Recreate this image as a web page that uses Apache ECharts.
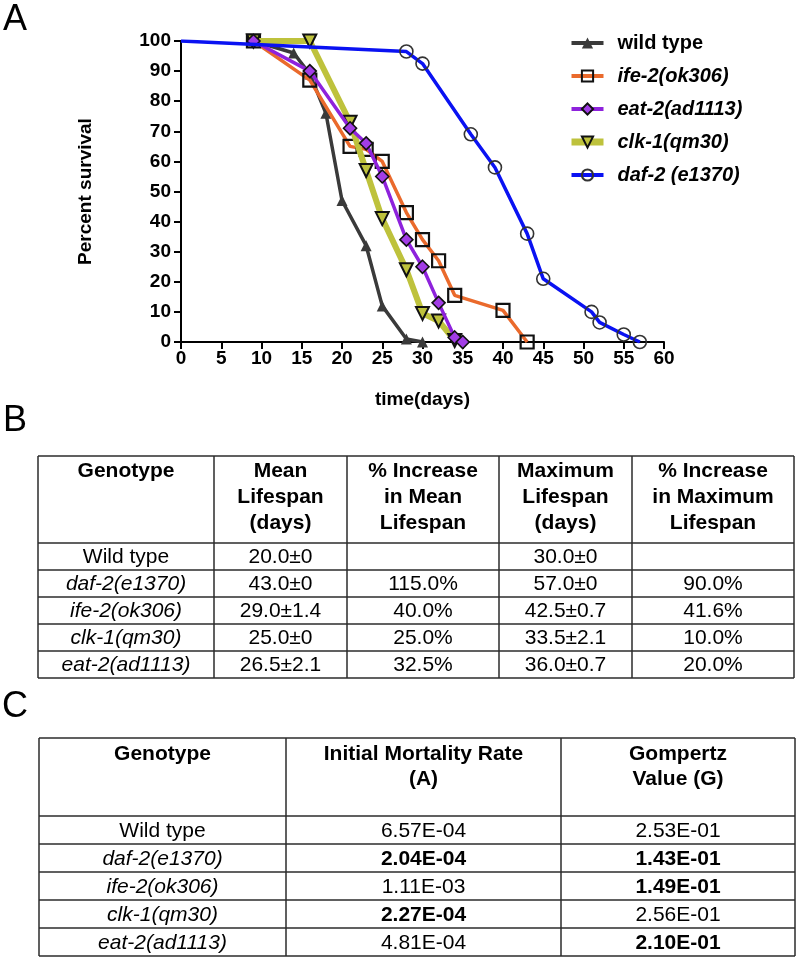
<!DOCTYPE html>
<html><head><meta charset="utf-8">
<script src="https://cdn.jsdelivr.net/npm/echarts@6/dist/echarts.min.js"></script>
<style>html,body{margin:0;padding:0;background:#fff}#c{width:796px;height:958px}</style>
</head><body><div id="c"></div>
<script>
// ---------- Panel A data ----------
const seriesNames = ['wild type','ife-2(ok306)','eat-2(ad1113)','clk-1(qm30)','daf-2 (e1370)'];
const wtDays  = [9,14,16,18,20,23,25,28,30];
const wtSurv  = [100,96,89,76,47,32,12,1,0];
const ifeDays = [9,16,21,23,25,28,30,32,34,40,43];
const ifeSurv = [100,87,65,64,60,43,34,27,15.5,10.5,0];
const eatDays = [9,16,21,23,25,28,30,32,34,35];
const eatSurv = [100,90,71,66,55,34,25,13,1.5,0];
const clkDays = [9,16,21,23,25,28,30,32,34];
const clkSurv = [100,100,73,57,41,24,9.5,7,0.5];
const dafDays = [0,28,30,36,39,43,45,51,52,55,57];
const dafSurv = [100,96.5,92.5,69,58,36,21,10,6.5,2.5,0];
const xMin = 0, xMax = 60, xStep = 5;
const yMin = 0, yMax = 100, yStep = 10;
const xTitle = 'time(days)';
const yTitle = 'Percent survival';

// ---------- Panel B data ----------
const tblBHeaders = ['Genotype','Mean\nLifespan\n(days)','% Increase\nin Mean\nLifespan','Maximum\nLifespan\n(days)','% Increase\nin Maximum\nLifespan'];
const genotypes = ['Wild type','daf-2(e1370)','ife-2(ok306)','clk-1(qm30)','eat-2(ad1113)'];
const meanLifespan = ['20.0±0','43.0±0','29.0±1.4','25.0±0','26.5±2.1'];
const pctMean = ['','115.0%','40.0%','25.0%','32.5%'];
const maxLifespan = ['30.0±0','57.0±0','42.5±0.7','33.5±2.1','36.0±0.7'];
const pctMax = ['','90.0%','41.6%','10.0%','20.0%'];

// ---------- Panel C data ----------
const tblCHeaders = ['Genotype','Initial Mortality Rate\n(A)','Gompertz\nValue (G)'];
const initMort = ['6.57E-04','2.04E-04','1.11E-03','2.27E-04','4.81E-04'];
const initMortBold = [false,true,false,true,false];
const gompertz = ['2.53E-01','1.43E-01','1.49E-01','2.56E-01','2.10E-01'];
const gompertzBold = [false,true,true,false,true];

const FF = '"Liberation Sans", Arial, Helvetica, sans-serif';
const pairs = (xs, ys) => xs.map((x, i) => [x, ys[i]]);

const chart = echarts.init(document.getElementById('c'), null, {renderer: 'canvas'});

// ---------- table graphics ----------
const graphics = [];
function txt(x, y, text, font, opts) {
  graphics.push(Object.assign({
    type: 'text', x: x, y: y, silent: true,
    style: Object.assign({text: text, font: font, fill: '#000', align: 'center', verticalAlign: 'middle'}, opts || {})
  }));
}
function grid(xs, ys) {
  const st = {stroke: '#2b2b2b', lineWidth: 1.5};
  xs.forEach(x => graphics.push({type: 'line', silent: true, shape: {x1: x, y1: ys[0], x2: x, y2: ys[ys.length-1]}, style: st}));
  ys.forEach(y => graphics.push({type: 'line', silent: true, shape: {x1: xs[0], y1: y, x2: xs[xs.length-1], y2: y}, style: st}));
}
// panel letters
txt(15, 20, 'A', '36px ' + FF);
txt(15, 421, 'B', '36px ' + FF);
txt(15, 707, 'C', '36px ' + FF);

// Table B
const bXs = [38,214,347,499,632,794];
const bYs = [456,543,570,597,624,651,678];
grid(bXs, bYs);
tblBHeaders.forEach((h, j) => {
  txt((bXs[j]+bXs[j+1])/2, 458, h, 'bold 21px ' + FF, {verticalAlign: 'top', lineHeight: 26});
});
const bCols = [genotypes, meanLifespan, pctMean, maxLifespan, pctMax];
bCols.forEach((col, j) => {
  col.forEach((v, i) => {
    const ital = (j === 0 && i > 0) ? 'italic ' : '';
    txt((bXs[j]+bXs[j+1])/2, (bYs[i+1]+bYs[i+2])/2 + 1, v, ital + '21px ' + FF);
  });
});

// Table C
const cXs = [39,286,561,795];
const cYs = [738,816,844,872,900,928,956];
grid(cXs, cYs);
tblCHeaders.forEach((h, j) => {
  txt((cXs[j]+cXs[j+1])/2, 742, h, 'bold 21px ' + FF, {verticalAlign: 'top', lineHeight: 25});
});
genotypes.forEach((g, i) => {
  const cy = (cYs[i+1]+cYs[i+2])/2 + 1;
  txt((cXs[0]+cXs[1])/2, cy, g, (i > 0 ? 'italic ' : '') + '21px ' + FF);
  txt((cXs[1]+cXs[2])/2, cy, initMort[i], (initMortBold[i] ? 'bold ' : '') + '21px ' + FF);
  txt((cXs[2]+cXs[3])/2, cy, gompertz[i], (gompertzBold[i] ? 'bold ' : '') + '21px ' + FF);
});

// ---------- chart ----------
const axisCommon = {
  axisLine: {show: true, onZero: false, lineStyle: {color: '#000', width: 2}},
  axisTick: {show: true, length: 7, lineStyle: {color: '#000', width: 2}},
  splitLine: {show: false},
  axisLabel: {color: '#000', fontWeight: 'bold', fontSize: 19, fontFamily: FF},
  nameTextStyle: {color: '#000', fontWeight: 'bold', fontSize: 19, fontFamily: FF}
};

const legendLineW = [4, 4, 4, 7, 4];
const option = {
  animation: false,
  backgroundColor: '#fff',
  grid: {left: 181, top: 41, width: 483, height: 301, containLabel: false},
  xAxis: Object.assign({}, axisCommon, {
    type: 'value', min: xMin, max: xMax, interval: xStep,
    name: xTitle, nameLocation: 'middle', nameGap: 48,
    axisLabel: Object.assign({}, axisCommon.axisLabel, {margin: 7})
  }),
  yAxis: Object.assign({}, axisCommon, {
    type: 'value', min: yMin, max: yMax, interval: yStep,
    name: yTitle, nameLocation: 'middle', nameGap: 86,
    axisLabel: Object.assign({}, axisCommon.axisLabel, {margin: 10})
  }),
  legend: {
    orient: 'vertical', left: 563, top: 28, itemWidth: 32, itemHeight: 14, itemGap: 13,
    textStyle: {color: '#000', fontWeight: 'bold', fontSize: 20, fontFamily: FF, padding: [0,0,0,9]},
    data: seriesNames.map((n, i) => ({name: n, textStyle: i ? {fontStyle: 'italic'} : {}, lineStyle: {width: legendLineW[i]}}))
  },
  graphic: graphics,
  series: [
    {name: seriesNames[0], type: 'line', z: 3, data: pairs(wtDays, wtSurv), showAllSymbol: true,
     symbol: 'triangle', symbolSize: 11,
     lineStyle: {color: '#3a3a3a', width: 3.5},
     itemStyle: {color: '#3a3a3a', borderColor: '#3a3a3a', borderWidth: 0}},
    {name: seriesNames[1], type: 'line', z: 4, data: pairs(ifeDays, ifeSurv), showAllSymbol: true,
     symbol: 'rect', symbolSize: 13,
     lineStyle: {color: '#ea6a2c', width: 3.5},
     itemStyle: {color: 'rgba(255,255,255,0)', borderColor: '#111', borderWidth: 2.2}},
    {name: seriesNames[2], type: 'line', z: 6, data: pairs(eatDays, eatSurv), showAllSymbol: true,
     symbol: 'diamond', symbolSize: 13,
     lineStyle: {color: '#8e22dc', width: 3.5},
     itemStyle: {color: '#a23de6', borderColor: '#111', borderWidth: 1.6}},
    {name: seriesNames[3], type: 'line', z: 5, data: pairs(clkDays, clkSurv), showAllSymbol: true,
     symbol: 'triangle', symbolRotate: 180, symbolSize: 13,
     lineStyle: {color: '#bec23c', width: 6},
     itemStyle: {color: '#bec23c', borderColor: '#111', borderWidth: 2}},
    {name: seriesNames[4], type: 'line', z: 7,
     data: pairs(dafDays, dafSurv).map((p, i) => i === 0 ? {value: p, symbol: 'none'} : p), showAllSymbol: true,
     symbol: 'circle', symbolSize: 13,
     lineStyle: {color: '#0a12f2', width: 3.5},
     itemStyle: {color: 'rgba(255,255,255,0)', borderColor: '#333', borderWidth: 1.6}}
  ]
};
chart.setOption(option);
</script>
</body></html>
